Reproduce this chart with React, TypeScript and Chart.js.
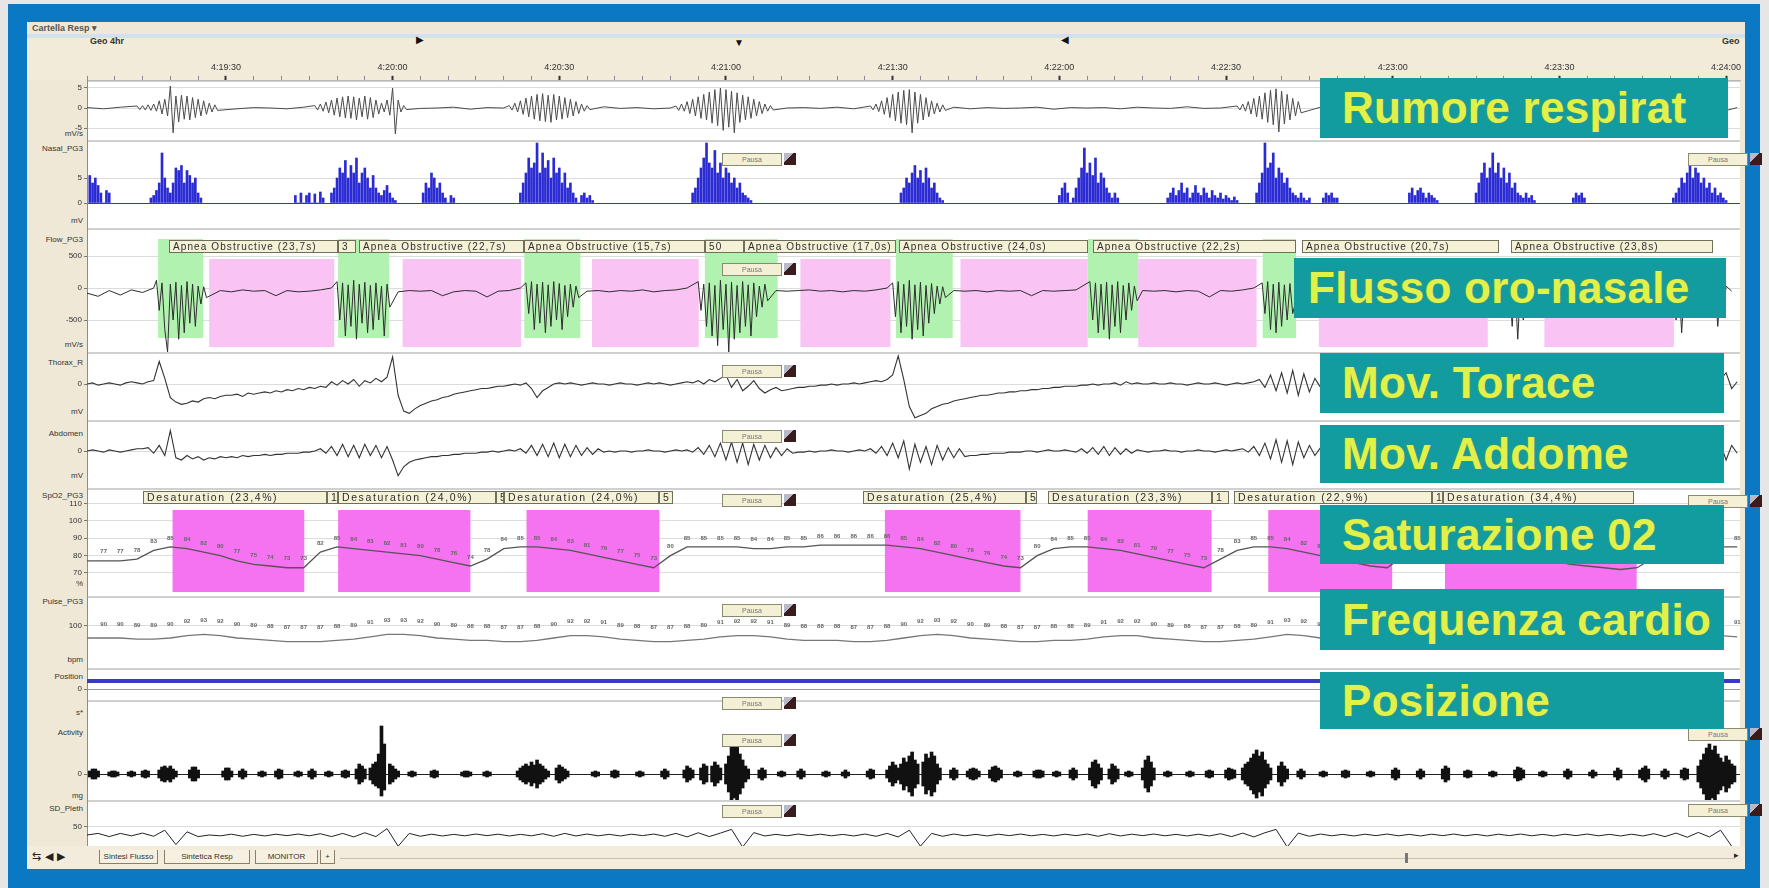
import React, { useEffect, useRef } from 'react';
import { Chart, registerables } from 'chart.js';

Chart.register(...registerables);

// ---------------- time axis (seconds after 4:19:00) ----------------
const timeMin = 5;
const timeMax = 302.5;
const timeTicks = [30, 60, 90, 120, 150, 180, 210, 240, 270, 300];
const timeTickLabels = ['4:19:30', '4:20:00', '4:20:30', '4:21:00', '4:21:30', '4:22:00', '4:22:30', '4:23:00', '4:23:30', '4:24:00'];

// ---------------- Rumore respiratorio (snore) ----------------
// baseline samples every 3 s from t=5
const snoreBase = [
  0.1, -0.2, 0.2, 0.0, -0.3, 0.2, 0.1, -0.1, 0.3, -0.2,
  0.1, 0.0, -0.2, 0.2, -0.1, 0.3, 0.0, -0.2, 0.1, 0.2,
  -0.1, 0.0, 0.2, -0.3, 0.1, 0.0, -0.1, 0.2, 0.1, -0.2,
  0.0, 0.3, -0.1, 0.1, -0.2, 0.0, 0.2, -0.1, 0.1, 0.0,
  -0.3, 0.2, 0.0, 0.1, -0.1, 0.2, -0.2, 0.0, 0.1, 0.3,
  -0.1, 0.0, 0.2, -0.2, 0.1, -0.1, 0.0, 0.2, -0.3, 0.1,
  0.0, 0.1, -0.2, 0.2, 0.0, -0.1, 0.3, -0.1, 0.0, 0.2,
  -0.2, 0.1, 0.0, -0.1, 0.2, 0.1, -0.2, 0.0, 0.3, -0.1,
  0.1, 0.0, -0.2, 0.2, -0.1, 0.0, 0.1, -0.3, 0.2, 0.0,
  0.1, -0.1, 0.2, 0.0, -0.2, 0.1, 0.3, -0.1, 0.0, 0.1,
];
// bursts: [start time, samples every 0.5 s]
const snoreBursts: [number, number[]][] = [
  [14, [0.5, -0.4, 0.6, -0.5, 0.8, -0.6, 1.0, -0.8, 1.8, -1.5, 2.2, -2.0, 5.5, -6.2, 3.0, -3.5, 3.2, -2.8, 3.0, -3.0, 2.6, -2.4, 2.2, -2.0, 1.8, -1.6, 1.2, -1.0, 0.8, -0.6]],
  [46, [0.6, -0.5, 1.0, -0.8, 1.5, -1.2, 2.0, -1.8, 2.5, -2.2, 2.8, -2.5, 3.0, -2.6, 2.8, -3.0, 2.5, -2.2, 3.0, -2.8, 2.6, -2.4, 2.0, -1.5, 1.2, -1.0, 2.0, -1.8, 5.0, -6.5, 2.0, -1.0, 0.6, -0.4]],
  [81, [0.6, -0.5, 1.2, -1.0, 1.8, -1.6, 2.5, -2.2, 3.0, -2.8, 3.4, -3.2, 3.6, -3.4, 3.2, -3.6, 3.4, -3.0, 3.0, -2.8, 2.6, -2.4, 2.2, -2.0, 1.6, -1.4, 1.0, -0.8, 0.6, -0.4]],
  [111, [0.5, -0.6, 1.0, -0.8, 1.6, -1.4, 2.2, -2.0, 2.8, -2.6, 3.4, -3.0, 4.0, -3.8, 4.6, -4.4, 5.0, -5.6, 4.6, -4.8, 4.2, -6.2, 3.8, -3.6, 3.2, -3.0, 2.8, -2.6, 2.2, -2.0, 1.6, -1.4, 1.0, -0.8, 0.6, -0.5]],
  [146, [0.5, -0.5, 1.0, -0.9, 1.8, -1.6, 2.6, -2.4, 3.4, -3.2, 4.0, -3.8, 4.4, -4.2, 4.6, -6.2, 4.0, -3.8, 3.4, -3.0, 2.6, -2.2, 1.8, -1.5, 1.2, -1.0, 0.8, -0.6]],
  [212, [0.5, -0.5, 1.0, -0.8, 1.6, -1.5, 2.4, -2.2, 3.0, -2.8, 3.8, -3.6, 4.4, -4.2, 4.8, -6.0, 4.2, -4.0, 3.4, -3.0, 2.4, -2.0, 1.6, -1.2]],
  [297, [0.8, -1.0, 2.0, -1.6, 1.0, -0.8]],
];

// ---------------- Nasal pressure bars: [start, values every 0.5 s] ----------------
const nasalClusters: [number, number[]][] = [
  [5.5, [5.5, 4, 5, 3.5, 2, 0, 2.5, 2]],
  [16.5, [1, 1.5, 2.5, 4, 10, 5, 3, 2, 4, 7, 6.5, 7.5, 4, 6.5, 5.5, 4, 5, 2, 1]],
  [42.5, [1.5, 0, 2, 0, 1.5, 2, 0, 1.8, 0, 2.2, 1]],
  [49, [2, 3, 5, 7, 6, 8.5, 5, 7.5, 6, 9, 4, 6, 7, 5, 3, 5.5, 3, 2, 1.5, 2.5, 3.5, 2, 1, 0.5]],
  [65.5, [2, 4, 3, 6, 5, 3, 4, 2, 1, 0, 1.5, 1]],
  [83, [2, 4, 6, 9, 7, 8, 12, 6, 10, 7, 8.5, 5, 9, 6, 7, 4, 6, 3, 4, 2, 1, 0, 1.5, 2, 1, 1.5, 0.5]],
  [114, [2, 3, 5, 7, 9, 12, 8, 7, 10.5, 6, 8, 5, 7, 6, 4, 5, 3, 4, 2, 1.5, 1, 0.5]],
  [151.5, [2, 3, 5, 4, 6, 7.5, 5, 6.5, 4, 7, 5, 3, 4, 2, 1, 0.5]],
  [180, [1.5, 3, 4, 2, 0, 1, 3, 5, 7, 11, 6, 8, 5.5, 9, 4, 6, 5, 3, 2, 1, 2, 1]],
  [199.5, [1, 2, 3, 1.5, 2.5, 4, 2, 3, 1, 2, 3.5, 2, 1.5, 3, 2, 1, 2.5, 1.5, 1, 2, 0.8, 1.5, 1, 0.5, 1.2, 0.5]],
  [215.5, [2, 4, 6, 12, 7, 8, 10, 5, 7, 6, 4, 5, 3, 2, 1.5, 1, 2, 1, 0.5, 1]],
  [227.5, [1, 2, 1.5, 2, 1, 1]],
  [243, [2, 3, 1.5, 2.5, 3, 2, 1, 2, 1.5, 1, 0.5]],
  [255, [2, 4, 6, 8, 5, 7, 10, 6, 8, 5, 7, 4, 6, 3, 4, 2, 1.5, 1, 2, 1, 1.5, 0.5]],
  [272.5, [1, 2, 1.5, 2, 1]],
  [290.5, [1, 2, 3, 5, 4, 6, 9, 5, 7, 6, 4, 5, 3, 4, 2, 3, 1.5, 2, 1, 0.5]],
];

// ---------------- Flow ----------------
// baseline every 2 s from t=5
const flowBase = [
  -80, -130, -40, -110, -30, -70, 0, 0, 0, 0,
  -100, -50, -40, -60, -30, -50, -40, -120, -40, -60,
  -50, -30, 0, 0, 0, 0, 0, -150, -60, -40,
  -50, -40, -120, -60, -40, -50, -140, -50, -40, 0,
  0, 0, 0, 0, -100, -50, -40, -60, -40, -50,
  -30, -60, -40, -30, 0, 0, 0, 0, 0, 0,
  0, -120, -40, -50, -40, -30, -50, -40, -60, -40,
  -50, -30, 0, 0, 0, 0, 0, -150, -40, -50,
  -40, -60, -40, -50, -40, -120, -40, -50, -40, -30,
  0, 0, 0, 0, -100, -40, -50, -40, -60, -40,
  -50, -140, -40, -50, -30, 0, 0, 0, -100, -50,
  -40, -50, -40, -60, -40, -50, -40, -30, -50, -40,
  -60, -40, -50, -40, -50, -30, -40, -60, -40, -50,
  -40, -50, -30, -40, -60, -40, -50, -40, -30, -50,
  -40, -60, -40, -50, -40, -30, -50, -40, -50,
];
const flowBursts: [number, number[]][] = [
  [17, [0, 120, -350, 80, -650, -1000, 60, -500, 90, -800, 40, -700, 100, -550, 60, -600, 30, -250, 20, -150]],
  [50, [100, -500, 80, -750, 50, -600, 120, -800, 60, -550, 90, -700, 40, -650, 80, -500, 30, -750, 60, -300]],
  [84, [80, -400, 100, -650, 60, -550, 90, -700, 50, -600, 100, -500, 70, -650, 40, -450, 60, -300, 30, -150]],
  [115, [100, -350, 60, -600, 80, -750, 40, -900, 120, -650, 60, -1000, 90, -800, 40, -700, 100, -600, 50, -750, 80, -450, 30, -300, 60, -200]],
  [150, [80, -450, 100, -700, 60, -600, 120, -800, 50, -650, 90, -750, 40, -550, 70, -400, 30, -250, 20, -150]],
  [185.5, [100, -500, 80, -700, 60, -650, 90, -800, 50, -600, 100, -700, 40, -500, 80, -350, 30, -200]],
  [216.5, [80, -400, 100, -650, 60, -700, 90, -600, 50, -500, 70, -400]],
  [261, [50, -600, 80, -800, 40, -500, 30]],
  [290.5, [60, -500, 80, -700, 40]],
  [298, [50, -600, 40, -400, 30]],
];
const apneaStart = [27, 61.8, 95.9, 133.4, 162.2, 194.2, 226.7, 267.3];
const apneaEnd = [49.5, 83.1, 115.1, 149.6, 185.1, 215.5, 257.1, 290.6];
const recoveryStart = [17.8, 50.2, 83.7, 116.2, 150.6, 185.1, 216.6];
const recoveryEnd = [25.9, 59.4, 93.8, 129.3, 160.8, 194.2, 222.6];
const apneaLabelStart = [19.8, 50.2, 53.9, 83.7, 116.2, 123.3, 151.1, 186.1, 223.7, 261.2];
const apneaLabelEnd = [50.2, 53.5, 83.7, 116.2, 123.3, 150.6, 185.1, 222.6, 259.2, 297.7];
const apneaLabelText = [
  'Apnea Obstructive (23,7s)', '3', 'Apnea Obstructive (22,7s)', 'Apnea Obstructive (15,7s)', '50',
  'Apnea Obstructive (17,0s)', 'Apnea Obstructive (24,0s)', 'Apnea Obstructive (22,2s)',
  'Apnea Obstructive (20,7s)', 'Apnea Obstructive (23,8s)',
];

// ---------------- Thorax / Abdomen, every 1 s from t=5 ----------------
const thorax = [
  0, 1, -1, 0, 1, 0, -1, 1, 2, 1,
  0, 2, 3, 20, 5, -12, -16, -18, -17, -15,
  -16, -13, -12, -13, -11, -10, -10, -9, -11, -8,
  -9, -8, -7, -8, -6, -7, -5, -6, -4, -5,
  -3, -4, -2, -3, 2, -1, 3, 0, 4, -2,
  3, 1, 5, 2, 6, 24, -10, -24, -26, -22,
  -19, -17, -15, -14, -12, -11, -9, -8, -7, -6,
  -5, -4, -4, -3, -2, -2, -1, 0, -1, 1,
  -4, -12, -6, -3, 0, 1, 0, 1, 0, -1,
  0, 1, 0, 0, -1, 0, 1, 0, 0, -1,
  0, 1, 0, 1, 0, -1, 0, 1, 2, 1,
  3, 0, 4, 2, 5, 8, -3, 4, -6, -2,
  3, -4, -8, -5, -3, -6, -5, -4, -3, -3,
  -2, -2, -1, -1, 0, -1, 0, 0, 1, 0,
  1, 2, 3, 2, 4, 8, 25, 4, -20, -30,
  -28, -26, -22, -20, -18, -17, -15, -14, -13, -12,
  -11, -10, -10, -9, -8, -8, -7, -7, -6, -6,
  -5, -5, -4, -4, -3, -3, -2, -2, -2, -1,
  -1, 0, -1, 0, 0, 1, -1, 2, 0, 1,
  0, 0, 1, 0, 0, 1, 0, 0, -1, 0,
  1, 0, 0, 1, 0, -1, 0, 1, 0, 1,
  2, 4, -3, 8, -6, 10, -8, 12, -10, 9,
  -7, 5, -3, 2, 0, 1, 0, -1, 0, 1,
  0, 0, 1, 0, -1, 0, 1, 0, 0, 1,
  0, -1, 0, 1, 0, 0, 1, 0, -1, 0,
  1, 0, 0, -1, 0, 1, 0, 2, -1, 0,
  0, 1, 0, 0, -1, 0, 1, 0, 0, 1,
  0, -1, 0, 1, 0, 0, 1, 0, -1, 0,
  1, 0, 0, 1, 2, -2, 3, 0, 1, 0,
  0, 1, 0, 2, 4, 10, -4, 2,
];
const abdomen = [
  0, 1, 0, -1, 1, 0, -1, 0, 1, 2,
  2, 3, -2, 5, -4, 18, -6, -8, -4, -7,
  -5, -8, -6, -7, -5, -6, -5, -6, -4, -5,
  -4, -4, -3, -4, -3, -3, -2, -2, -2, -1,
  -1, 0, 2, -2, 4, -4, 6, -5, 5, -6,
  6, -4, 5, -6, 4, -8, -22, -14, -10, -8,
  -7, -6, -5, -5, -4, -4, -3, -3, -2, -2,
  -2, -1, -1, 0, -1, 0, 1, 0, 2, -2,
  5, -4, 6, -5, 7, -6, 6, -5, 5, -4,
  3, -3, 2, -1, 0, -1, 0, 0, -1, 0,
  0, 1, 0, 0, -1, 0, 1, 0, 1, -1,
  3, -3, 5, -5, 7, -8, 8, -10, 7, -12,
  6, -8, 5, -6, 3, -4, 2, -2, -1, -1,
  0, -1, 0, 0, 1, 0, 0, -1, 0, 1,
  0, 2, -2, 4, -4, 7, -6, 9, -16, 6,
  -10, 4, -12, 5, -8, 3, -6, 2, -5, -4,
  -4, -3, -3, -2, -2, -2, -1, -1, -1, 0,
  0, -1, 0, 1, 0, 0, 1, 0, -1, 2,
  -2, 3, -3, 4, -4, 3, -3, 2, -2, 1,
  0, -1, 0, 0, 1, 0, 0, -1, 0, 0,
  1, 0, 0, -1, 0, 1, 0, 1, 2, -1,
  4, -4, 7, -7, 10, -10, 9, -12, 8, -6,
  5, -4, 3, -2, 1, 0, -1, 0, 1, 0,
  0, 1, 0, -1, 0, 0, 1, 0, 0, -1,
  0, 0, 1, 0, -1, 0, 1, 0, 0, 1,
  0, -1, 0, 1, 0, 2, -2, 3, -3, 2,
  -1, 0, 1, 0, 0, -1, 0, 1, 0, 0,
  1, 0, -1, 0, 0, 1, 0, 0, -1, 0,
  1, 2, -2, 3, -3, 4, -4, 3, -2, 1,
  0, 1, 2, -3, 6, -8, 5, -2,
];

// ---------------- SpO2 (%) every 3 s from t=5 ----------------
const spo2 = [
  77, 77, 77, 78, 83, 85, 84, 82, 80, 77,
  75, 74, 73, 73, 82, 85, 84, 83, 82, 81,
  80, 78, 76, 74, 78, 84, 85, 85, 84, 83,
  81, 79, 77, 75, 73, 80, 85, 85, 85, 85,
  84, 84, 85, 85, 86, 86, 86, 86, 86, 85,
  84, 82, 80, 78, 76, 74, 73, 80, 84, 85,
  85, 84, 83, 81, 79, 77, 75, 73, 78, 83,
  85, 85, 84, 82, 80, 78, 76, 74, 73, 80,
  85, 85, 84, 83, 82, 81, 80, 78, 77, 75,
  74, 73, 72, 73, 79, 83, 84, 84, 85, 85,
];
const desatStart = [20.4, 50.2, 84.1, 148.6, 185.1, 217.6, 249.4];
const desatEnd = [44.1, 74.0, 108.0, 173.0, 207.4, 239.9, 283.9];
const desatLabelStart = [15.1, 48.2, 50.2, 78.6, 80, 108, 144.6, 174, 178, 207.4, 211.5, 247, 249];
const desatLabelEnd = [48.2, 50.2, 78.6, 80, 108, 110.5, 174, 176, 207.4, 210.5, 247, 249, 283.5];
const desatLabelText = [
  'Desaturation (23,4%)', '13', 'Desaturation (24,0%)', '5', 'Desaturation (24,0%)', '5',
  'Desaturation (25,4%)', '5', 'Desaturation (23,3%)', '1', 'Desaturation (22,9%)', '11', 'Desaturation (34,4%)',
];

// ---------------- Pulse (bpm) every 3 s from t=5 ----------------
const pulse = [
  90, 90, 90, 89, 89, 90, 92, 93, 92, 90,
  89, 88, 87, 87, 87, 88, 89, 91, 93, 93,
  92, 90, 89, 88, 88, 87, 87, 88, 90, 92,
  92, 91, 89, 88, 87, 87, 88, 89, 91, 92,
  92, 91, 89, 88, 88, 88, 87, 87, 88, 90,
  92, 93, 92, 90, 89, 88, 87, 87, 88, 88,
  89, 91, 92, 92, 90, 89, 88, 87, 87, 88,
  89, 91, 93, 92, 90, 89, 88, 87, 87, 87,
  88, 88, 89, 90, 91, 92, 92, 90, 89, 88,
  88, 87, 87, 87, 88, 89, 91, 92, 92, 91,
];

// ---------------- Position, every 30 s from t=5 ----------------
const position = [1, 1, 1, 1, 1, 1, 1, 1, 1, 1, 1];

// ---------------- Activity: [start, half-amplitudes every 0.5 s] ----------------
const activityBursts: [number, number[]][] = [
  [5.5, [3, 5, 5, 3]], [9, [2, 3, 3, 2]], [12.5, [2, 3, 2]], [15, [3, 4, 3]],
  [18, [4, 7, 8, 6, 8, 5, 3]], [23.5, [4, 7, 7, 4]], [29.5, [3, 6, 6, 3]], [32.5, [3, 5, 3]],
  [36, [2, 3, 2]], [39, [3, 5, 4]], [42.5, [2, 3, 2]], [45, [3, 5, 3]], [48, [2, 3, 2]],
  [51, [3, 4, 3]], [53.5, [5, 10, 8, 5]], [56, [6, 10, 12, 8]], [59.5, [10, 8, 5, 3]],
  [63, [2, 3, 2]], [67, [3, 4, 3]], [72.5, [2, 3, 3, 2]], [76.5, [2, 3, 2]],
  [82.5, [3, 6, 8, 10, 8, 12, 9, 14, 10, 8, 5, 3]], [89.5, [6, 9, 7, 5, 3]],
  [96, [2, 3, 2]], [99.5, [3, 4, 3]], [104, [2, 3, 2]], [108.5, [3, 5, 3]],
  [112.5, [4, 8, 6, 4]], [115.5, [6, 10, 8]], [117.5, [8, 12, 9, 6]],
  [120, [10, 18, 28, 24, 26, 20, 14, 8, 5]], [126, [4, 6, 4]], [129.5, [2, 3, 2]],
  [133, [3, 5, 3]], [137.5, [2, 3, 2]], [141, [2, 4, 2]], [145.5, [3, 5, 4]],
  [149, [4, 8, 12, 9, 6]], [151.5, [10, 16, 12, 18, 22, 14, 10]], [155.5, [12, 20, 16, 22, 18, 10, 6]],
  [160.5, [4, 6, 4]], [163.5, [3, 5, 6, 5, 3]], [167.5, [4, 7, 8, 6, 4]], [172, [2, 3, 2]],
  [175.5, [3, 4, 4, 3]], [179, [2, 3, 2]], [182, [4, 6, 4]], [185.5, [6, 12, 14, 10, 6]],
  [189, [5, 10, 8, 5]], [192, [2, 3, 2]], [195, [6, 14, 18, 12, 6]], [199, [2, 3, 2]],
  [203, [2, 3, 2]], [206.5, [3, 4, 3]], [210, [4, 6, 5, 4]],
  [213, [6, 10, 12, 16, 20, 24, 18, 22, 14, 10, 6]], [219.5, [8, 12, 8, 5]], [223, [3, 5, 3]],
  [227, [2, 3, 2]], [231, [3, 4, 3]], [235.5, [2, 3, 2]], [240, [4, 6, 4]], [244.5, [3, 5, 3]],
  [249, [5, 8, 6]], [253, [3, 4, 3]], [257.5, [2, 3, 2]], [262, [4, 7, 6, 4]], [266.5, [2, 3, 2]],
  [271, [3, 5, 3]], [275.5, [2, 4, 2]], [280, [3, 6, 4]], [284.5, [4, 6, 8, 5]], [288.5, [3, 5, 3]],
  [292, [4, 6, 5]], [295, [8, 14, 20, 26, 30, 24, 28, 20, 16]], [299.5, [12, 18, 14, 10, 8]],
];
// asymmetric spikes: [time, low, high]
const activitySpikes: [number, number, number][] = [
  [57.5, -14, 20], [58, -22, 48], [58.5, -16, 30], [121.5, -20, 30], [122, -24, 36],
];

// ---------------- Pleth, every 2 s from t=5 ----------------
const pleth = [
  0, 10, -10, 10, -5, 12, -8, 30, -60, 20,
  -10, 0, -5, 5, -8, 4, -6, 5, -4, 6,
  -5, 8, -10, 10, -12, 14, -10, 40, -70, 10,
  -8, 5, -6, 4, -5, 6, -4, 5, -6, 4,
  -5, 8, -8, 10, -6, 6, -5, 4, -6, 5,
  -4, 6, -8, 10, -12, 14, -10, 12, 35, -75,
  15, -6, 4, -5, 6, -4, 5, -5, 4, -6,
  6, -8, 10, -12, 30, -70, 10, -8, 6, -5,
  4, -6, 5, -4, 6, -5, 4, -6, 5, -4,
  6, -8, 8, -6, 5, -4, 6, -5, 4, -6,
  5, -6, 8, -10, 12, -12, 14, 35, -75, 12,
  -8, 6, -5, 4, -6, 5, -4, 6, -5, 4,
  -6, 5, -4, 6, -5, 4, -6, 5, -4, 6,
  -5, 4, -6, 5, -4, 6, -5, 4, -6, 5,
  -6, 8, -10, 12, -14, 16, -12, 30, -70,
];

// ---------------- layout (pixels) ----------------
const WIN_L = 27;
const WIN_R = 1745;
const PLOT_L = 87;
const PLOT_R = 1740;
const FONT = '"Liberation Sans", Arial, sans-serif';

type Strip = { id: string; top: number; h: number; min: number; max: number; ticks: number[] };
const strips: Strip[] = [
  { id: 'snore', top: 80, h: 60, min: -8, max: 7, ticks: [-5, 0, 5] },
  { id: 'nasal', top: 140, h: 88, min: -5, max: 12.6, ticks: [0, 5] },
  { id: 'flow', top: 228, h: 124, min: -1000, max: 937.5, ticks: [-500, 0, 500] },
  { id: 'thorax', top: 352, h: 68, min: -31.9, max: 28.4, ticks: [0] },
  { id: 'abdomen', top: 420, h: 68, min: -32.8, max: 27.5, ticks: [0] },
  { id: 'spo2', top: 488, h: 108, min: 56.7, max: 119, ticks: [70, 80, 90, 100, 110] },
  { id: 'pulse', top: 596, h: 72, min: 65, max: 125, ticks: [100] },
  { id: 'position', top: 668, h: 32, min: -1.375, max: 2.625, ticks: [0] },
  { id: 'activity', top: 700, h: 100, min: -26, max: 74, ticks: [0] },
  { id: 'pleth', top: 800, h: 46, min: -68.75, max: 218.75, ticks: [50] },
];

const leftLabels: [string, number][] = [
  ['mV/s', 134], ['Nasal_PG3', 149], ['mV', 221], ['Flow_PG3', 240], ['mV/s', 345],
  ['Thorax_R', 363], ['mV', 412], ['Abdomen', 434], ['mV', 476], ['SpO2_PG3', 496], ['%', 584],
  ['Pulse_PG3', 602], ['bpm', 660], ['Position', 677], ['s*', 713], ['Activity', 733], ['mg', 796],
  ['SD_Pleth', 809],
];

const tealBoxes: [string, number, number, number, number, number][] = [
  ['Rumore respirat', 1320, 78, 408, 60, 22],
  ['Flusso oro-nasale', 1294, 258, 432, 60, 14],
  ['Mov. Torace', 1320, 353, 404, 60, 22],
  ['Mov. Addome', 1320, 425, 404, 58, 22],
  ['Saturazione 02', 1320, 505, 404, 59, 22],
  ['Frequenza cardio', 1320, 589, 404, 61, 22],
  ['Posizione', 1320, 672, 404, 57, 22],
];

const pausaBoxes: [number, number][] = [
  [722, 153], [722, 263], [722, 365], [722, 430], [722, 494], [722, 604], [722, 697], [722, 734], [722, 805],
  [1688, 153], [1688, 495], [1688, 728], [1688, 804],
];

// ---------------- helpers ----------------
type P = { x: number; y: any };
function uniform(t0: number, step: number, values: number[]): P[] {
  return values.map((v, i) => ({ x: t0 + i * step, y: v }));
}
function withBursts(base: P[], bursts: [number, number[]][], step: number): P[] {
  const segs = bursts.map(([s, v]) => [s, s + (v.length - 1) * step]);
  const pts = base.filter((p) => !segs.some(([a, b]) => p.x >= a - step && p.x <= b + step));
  bursts.forEach(([s, v]) => v.forEach((val, i) => pts.push({ x: s + i * step, y: val })));
  return pts.sort((a, b) => a.x - b.x);
}
function clusterBars(clusters: [number, number[]][], step: number): P[] {
  const out: P[] = [];
  clusters.forEach(([s, v]) => v.forEach((val, i) => out.push({ x: s + i * step, y: val })));
  return out;
}
function symmetricBars(clusters: [number, number[]][], step: number): P[] {
  const out: P[] = [];
  clusters.forEach(([s, v]) => v.forEach((a, i) => out.push({ x: s + i * step, y: [-a, a] })));
  return out;
}

function bandPlugin(bands: { start: number[]; end: number[]; lo: number; hi: number; color: string }[]) {
  return {
    id: 'bands',
    beforeDatasetsDraw(chart: any) {
      const { ctx, scales, chartArea } = chart;
      const x = scales.x, y = scales.y;
      ctx.save();
      ctx.beginPath();
      ctx.rect(chartArea.left, chartArea.top, chartArea.right - chartArea.left, chartArea.bottom - chartArea.top);
      ctx.clip();
      bands.forEach((b) => {
        ctx.fillStyle = b.color;
        const yt = y.getPixelForValue(b.hi), yb = y.getPixelForValue(b.lo);
        b.start.forEach((s, i) => {
          const x0 = x.getPixelForValue(s), x1 = x.getPixelForValue(b.end[i]);
          ctx.fillRect(x0, yt, x1 - x0, yb - yt);
        });
      });
      ctx.restore();
    },
  };
}

function labelPlugin(starts: number[], ends: number[], texts: string[], hi: number, lo: number, fontPx: number, spacing: number) {
  return {
    id: 'evlabels',
    afterDatasetsDraw(chart: any) {
      const { ctx, scales } = chart;
      const x = scales.x, y = scales.y;
      const yt = Math.round(y.getPixelForValue(hi)), yb = Math.round(y.getPixelForValue(lo));
      ctx.save();
      ctx.font = fontPx + 'px ' + FONT;
      try { (ctx as any).letterSpacing = spacing + 'px'; } catch (e) { /* ignore */ }
      ctx.textBaseline = 'middle';
      starts.forEach((s, i) => {
        const x0 = Math.round(x.getPixelForValue(s)), x1 = Math.round(x.getPixelForValue(ends[i]));
        ctx.fillStyle = '#f4f1d7';
        ctx.fillRect(x0, yt, x1 - x0, yb - yt);
        ctx.strokeStyle = '#6f6f5a';
        ctx.lineWidth = 1;
        ctx.strokeRect(x0 + 0.5, yt + 0.5, x1 - x0 - 1, yb - yt - 1);
        ctx.save();
        ctx.beginPath();
        ctx.rect(x0 + 1, yt, x1 - x0 - 2, yb - yt);
        ctx.clip();
        ctx.fillStyle = '#2e2e2e';
        ctx.fillText(texts[i], x0 + 4, (yt + yb) / 2 + 0.5);
        ctx.restore();
      });
      ctx.restore();
    },
  };
}

const markPlugin = {
  id: 'marks',
  afterDatasetsDraw(chart: any, _args: any, opts: any) {
    if (!opts || !opts.show) return;
    const { ctx } = chart;
    const meta = chart.getDatasetMeta(0);
    const data = chart.data.datasets[0].data;
    ctx.save();
    ctx.font = 'bold 6px ' + FONT;
    ctx.fillStyle = '#666';
    ctx.textAlign = 'center';
    ctx.textBaseline = 'middle';
    meta.data.forEach((el: any, i: number) => {
      if (el.x < chart.chartArea.left + 4 || el.x > chart.chartArea.right) return;
      ctx.fillText(String(data[i].y), el.x, el.y - opts.lift);
    });
    ctx.restore();
  },
};

function datasetsFor(id: string): any[] {
  const line = (data: P[], color: string, width: number) => ({
    type: 'line', data, borderColor: color, borderWidth: width, pointRadius: 0, tension: 0, fill: false,
  });
  switch (id) {
    case 'snore':
      return [line(withBursts(uniform(5, 3, snoreBase), snoreBursts, 0.5), '#4a4a4a', 1)];
    case 'nasal':
      return [{ type: 'bar', data: clusterBars(nasalClusters, 0.5), backgroundColor: '#2b2bd4', barThickness: 2, grouped: false }];
    case 'flow':
      return [line(withBursts(uniform(5, 2, flowBase), flowBursts, 0.5), '#2d2d2d', 1)];
    case 'thorax':
      return [line(uniform(5, 1, thorax), '#333', 1.1)];
    case 'abdomen':
      return [line(uniform(5, 1, abdomen), '#333', 1.1)];
    case 'spo2':
      return [line(uniform(5, 3, spo2), '#555', 1.3)];
    case 'pulse':
      return [line(uniform(5, 3, pulse), '#777', 1.3)];
    case 'position':
      return [line(uniform(5, 30, position), '#3a3ac6', 4)];
    case 'activity':
      return [
        { type: 'bar', data: symmetricBars(activityBursts, 0.5), backgroundColor: '#111', barThickness: 3, grouped: false },
        { type: 'bar', data: activitySpikes.map(([t, lo, hi]) => ({ x: t, y: [lo, hi] })), backgroundColor: '#111', barThickness: 3, grouped: false },
      ];
    case 'pleth':
      return [line(uniform(5, 2, pleth), '#222', 1)];
  }
  return [];
}

function pluginsFor(id: string): any[] {
  if (id === 'flow') {
    return [
      bandPlugin([
        { start: recoveryStart, end: recoveryEnd, lo: -781, hi: 766, color: '#b2f2b0' },
        { start: apneaStart, end: apneaEnd, lo: -922, hi: 453, color: '#f9c3f3' },
      ]),
      labelPlugin(apneaLabelStart, apneaLabelEnd, apneaLabelText, 750, 547, 10, 1.1),
    ];
  }
  if (id === 'spo2') {
    return [
      bandPlugin([{ start: desatStart, end: desatEnd, lo: 59, hi: 106.3, color: '#f572f0' }]),
      labelPlugin(desatLabelStart, desatLabelEnd, desatLabelText, 117.2, 109.8, 10.5, 1.6),
      markPlugin,
    ];
  }
  if (id === 'pulse') return [markPlugin];
  return [];
}

function gridColor(id: string) {
  return (ctx: any) => {
    const v = ctx.tick ? ctx.tick.value : null;
    if (id === 'nasal' && v === 0) return '#3535c8';
    if (id === 'activity' && v === 0) return '#222';
    if (id === 'position' && v === 0) return '#9a9a9a';
    return '#dcdcdc';
  };
}

export default function App() {
  const stripRefs = useRef<(HTMLCanvasElement | null)[]>([]);
  const headerRef = useRef<HTMLCanvasElement | null>(null);

  useEffect(() => {
    const charts: Chart[] = [];
    if (headerRef.current) {
      charts.push(
        new Chart(headerRef.current, {
          type: 'line',
          data: { datasets: [] },
          options: {
            animation: false,
            responsive: false,
            events: [],
            layout: { padding: { left: PLOT_L - WIN_L, right: WIN_R - PLOT_R, top: 0, bottom: 0 } },
            plugins: { legend: { display: false }, tooltip: { enabled: false } },
            scales: {
              x: {
                type: 'linear',
                position: 'top',
                min: timeMin,
                max: timeMax,
                afterBuildTicks: (s: any) => {
                  const t: any[] = [];
                  for (let v = 5; v <= 300; v += 5) t.push({ value: v });
                  s.ticks = t;
                },
                ticks: {
                  autoSkip: false,
                  maxRotation: 0,
                  font: { size: 9, family: FONT },
                  color: '#333',
                  padding: 3,
                  callback: (v: any) => {
                    const i = timeTicks.indexOf(Number(v));
                    return i >= 0 ? timeTickLabels[i] : '';
                  },
                },
                grid: {
                  drawOnChartArea: false,
                  tickLength: 5,
                  tickColor: (c: any) => (c.tick && timeTicks.includes(c.tick.value) ? '#333' : '#8a8a8a'),
                  tickWidth: (c: any) => (c.tick && timeTicks.includes(c.tick.value) ? 2 : 1),
                },
                border: { display: true, color: '#b8b8b8' },
              },
              y: { display: false },
            },
          } as any,
        })
      );
    }
    strips.forEach((s, k) => {
      const canvas = stripRefs.current[k];
      if (!canvas) return;
      const ticks = s.ticks;
      charts.push(
        new Chart(canvas, {
          type: 'line',
          data: { datasets: datasetsFor(s.id) },
          options: {
            animation: false,
            responsive: false,
            events: [],
            layout: { padding: { left: 0, right: WIN_R - PLOT_R, top: 0, bottom: 0 } },
            plugins: {
              legend: { display: false },
              tooltip: { enabled: false },
              marks: { show: s.id === 'spo2' || s.id === 'pulse', lift: s.id === 'pulse' ? 14 : 9 },
            },
            scales: {
              x: { type: 'linear', min: timeMin, max: timeMax, display: false, offset: false },
              y: {
                min: s.min,
                max: s.max,
                afterBuildTicks: (sc: any) => {
                  sc.ticks = ticks.map((v) => ({ value: v }));
                },
                afterFit: (sc: any) => {
                  sc.width = PLOT_L - WIN_L;
                  sc.paddingTop = 0;
                  sc.paddingBottom = 0;
                },
                ticks: { font: { size: 8, family: FONT }, color: '#333', padding: 2, autoSkip: false },
                grid: { color: gridColor(s.id), lineWidth: 1, tickLength: 3, tickColor: '#777' },
                border: { display: true, color: '#8c8c8c' },
              },
            },
          } as any,
          plugins: pluginsFor(s.id),
        })
      );
    });
    return () => charts.forEach((c) => c.destroy());
  }, []);

  const W = WIN_R - WIN_L;
  return (
    <div style={{ position: 'absolute', left: 0, top: 0, width: 1769, height: 888, background: '#e6e6e6', overflow: 'hidden', fontFamily: FONT }}>
      {/* blue frame */}
      <div style={{ position: 'absolute', left: 8, top: 4, width: 1752, height: 884, background: '#0b78c3' }} />
      {/* window */}
      <div style={{ position: 'absolute', left: WIN_L, top: 22, width: W, height: 847, background: '#efe8d6' }} />
      <div style={{ position: 'absolute', left: WIN_L + 5, top: 23, fontSize: 9, color: '#555', fontWeight: 'bold' }}>Cartella Resp ▾</div>
      <div style={{ position: 'absolute', left: WIN_L, top: 34, width: W, height: 4, background: '#d2e1ec' }} />
      <div style={{ position: 'absolute', left: WIN_L, top: 38, width: W, height: 42, background: '#f2ebd9' }} />
      <div style={{ position: 'absolute', left: 90, top: 36, fontSize: 9, fontWeight: 'bold', color: '#333' }}>Geo 4hr</div>
      <div style={{ position: 'absolute', left: 1722, top: 36, fontSize: 9, fontWeight: 'bold', color: '#333' }}>Geo</div>
      <div style={{ position: 'absolute', left: 416, top: 34, fontSize: 10, color: '#111' }}>▶</div>
      <div style={{ position: 'absolute', left: 734, top: 37, fontSize: 10, color: '#111' }}>▼</div>
      <div style={{ position: 'absolute', left: 1061, top: 34, fontSize: 10, color: '#111' }}>◀</div>
      {/* plot area */}
      <div style={{ position: 'absolute', left: PLOT_L, top: 80, width: PLOT_R - PLOT_L, height: 766, background: '#ffffff' }} />
      {strips.map((s) => (
        <div key={'sep' + s.id} style={{ position: 'absolute', left: PLOT_L, top: s.top, width: PLOT_R - PLOT_L, height: 2, background: '#d0d0d0' }} />
      ))}
      {leftLabels.map(([t, y], i) => (
        <div key={'ll' + i} style={{ position: 'absolute', left: WIN_L + 2, width: 54, top: y - 5, fontSize: 8, lineHeight: '10px', textAlign: 'right', color: '#333', whiteSpace: 'nowrap' }}>{t}</div>
      ))}
      {/* charts */}
      <canvas ref={headerRef} width={W} height={60} style={{ position: 'absolute', left: WIN_L, top: 59, width: W, height: 60 }} />
      {strips.map((s, k) => (
        <canvas
          key={s.id}
          ref={(el) => { stripRefs.current[k] = el; }}
          width={W}
          height={s.h}
          style={{ position: 'absolute', left: WIN_L, top: s.top, width: W, height: s.h }}
        />
      ))}
      {/* marker boxes */}
      {pausaBoxes.map(([x, y], i) => (
        <div key={'pb' + i} style={{ position: 'absolute', left: x, top: y }}>
          <div style={{ position: 'absolute', left: 0, top: 0, width: 58, height: 11, background: '#f4f0d6', border: '1px solid #8b8a70', fontSize: 7, lineHeight: '11px', color: '#777', textAlign: 'center' }}>Pausa</div>
          <div style={{ position: 'absolute', left: 62, top: 0, width: 12, height: 12, background: 'linear-gradient(135deg, #b8b8c8 0%, #b8b8c8 40%, #3a1c1c 41%, #3a1c1c 100%)' }} />
        </div>
      ))}
      {/* teal labels */}
      {tealBoxes.map(([t, x, y, w, h, pad], i) => (
        <div key={'tb' + i} style={{ position: 'absolute', left: x, top: y, width: w, height: h, background: '#139ca0', boxSizing: 'border-box', paddingLeft: pad, display: 'flex', alignItems: 'center' }}>
          <span style={{ fontSize: 44, fontWeight: 'bold', color: '#e2f14a', whiteSpace: 'nowrap', letterSpacing: 0.3, textShadow: '0 0 2px rgba(140,150,40,0.6)' }}>{t}</span>
        </div>
      ))}
      {/* bottom tabs */}
      <div style={{ position: 'absolute', left: WIN_L, top: 846, width: W, height: 23, background: '#f3ecdc' }} />
      <div style={{ position: 'absolute', left: 32, top: 850, fontSize: 11, color: '#222', letterSpacing: 4 }}>⇆◀▶</div>
      {[['Sintesi Flusso', 99, 59], ['Sintetica Resp', 164, 86], ['MONITOR', 255, 63], ['+', 320, 15]].map(([t, x, w], i) => (
        <div key={'tab' + i} style={{ position: 'absolute', left: x as number, top: 850, width: w as number, height: 14, border: '1px solid #8a8068', borderTop: 'none', background: '#f6f0e0', fontSize: 8, lineHeight: '14px', textAlign: 'center', color: '#333', boxSizing: 'border-box' }}>{t}</div>
      ))}
      <div style={{ position: 'absolute', left: 340, top: 858, width: 1395, height: 1, background: '#c8c0b0' }} />
      <div style={{ position: 'absolute', left: 1405, top: 853, width: 3, height: 10, background: '#777' }} />
      <div style={{ position: 'absolute', left: 1734, top: 850, fontSize: 9, color: '#222' }}>▸</div>
    </div>
  );
}
